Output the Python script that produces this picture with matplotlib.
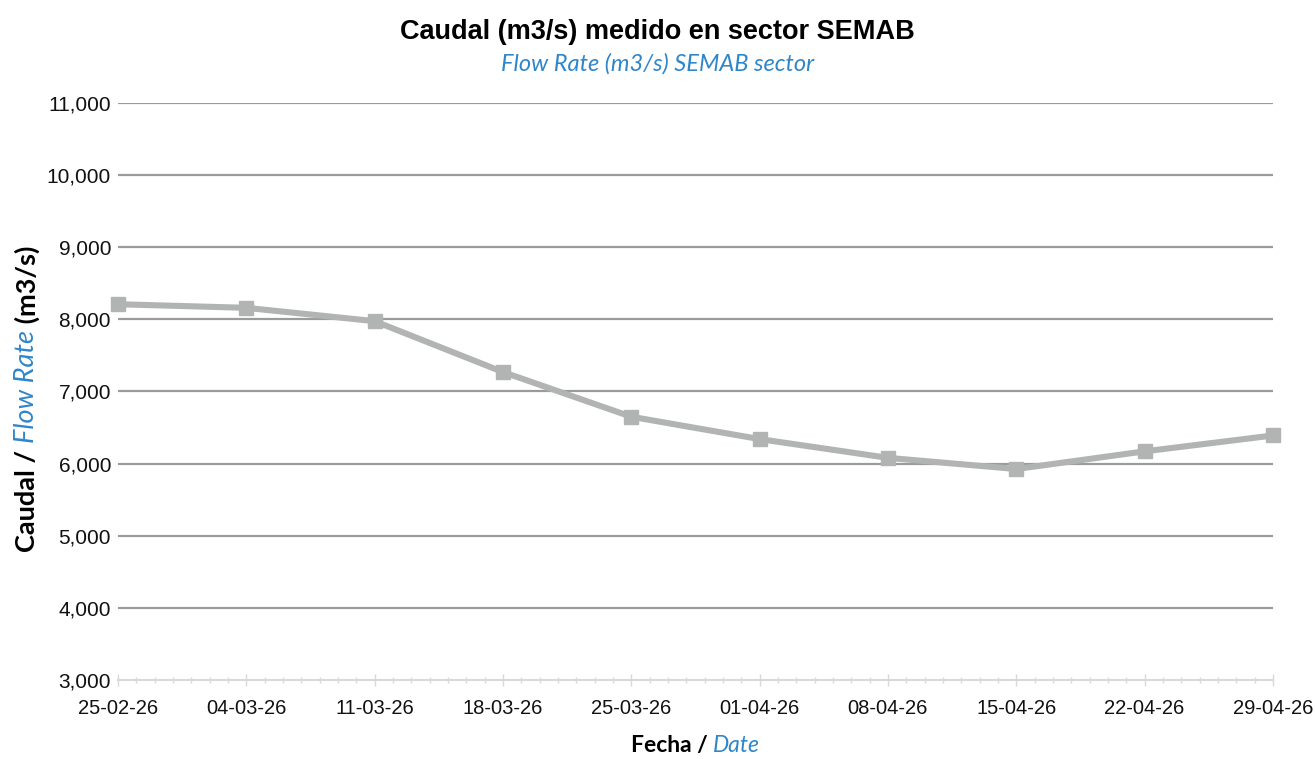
import datetime as dt
import matplotlib
matplotlib.use("Agg")
import matplotlib.pyplot as plt
import matplotlib.dates as mdates
import matplotlib.ticker as mticker
from matplotlib.transforms import IdentityTransform

# Weekly flow readings, sector SEMAB
dates = ["25-02-26", "04-03-26", "11-03-26", "18-03-26", "25-03-26",
         "01-04-26", "08-04-26", "15-04-26", "22-04-26", "29-04-26"]
flow = [8210, 8160, 7975, 7270, 6650, 6340, 6080, 5925, 6170, 6390]
y_ticks = [3000, 4000, 5000, 6000, 7000, 8000, 9000, 10000, 11000]

title_es = "Caudal (m3/s) medido en sector SEMAB"
title_en = "Flow Rate (m3/s) SEMAB sector"

sans = "Liberation Sans"
body = "Lato"
blue = "#2f86c8"

x = [dt.datetime.strptime(d, "%d-%m-%y") for d in dates]

fig = plt.figure(figsize=(13.15, 7.59), dpi=100)
ax = fig.add_axes([0.0897, 0.1041, 0.8783, 0.7602])

for v in y_ticks[1:]:
    ax.axhline(v, color="#9b9b9b", lw=1.6, zorder=1)

ax.plot(x, flow, color="#b2b4b4", lw=4.4, marker="s", ms=10,
        markerfacecolor="#b2b4b4", markeredgecolor="#b2b4b4",
        zorder=3, clip_on=False)

ax.set_xlim(x[0], x[-1])
ax.set_ylim(y_ticks[0], y_ticks[-1])
ax.set_yticks(y_ticks)
ax.yaxis.set_major_formatter(mticker.FuncFormatter(lambda v, p: f"{int(v):,}"))
ax.set_xticks(x)
ax.set_xticklabels(dates)
ax.xaxis.set_minor_locator(mdates.DayLocator())

for s in ("top", "right", "left"):
    ax.spines[s].set_visible(False)
ax.spines["bottom"].set_color("#d9d9d9")
ax.spines["bottom"].set_linewidth(1.5)

ax.tick_params(axis="y", length=0, pad=5, labelsize=15, labelcolor="#111111")
ax.tick_params(axis="x", which="major", direction="inout", length=9, width=1,
               color="#d9d9d9", pad=9, labelsize=14.5, labelcolor="#111111")
ax.tick_params(axis="x", which="minor", direction="inout", length=5, width=1,
               color="#d9d9d9")
for lab in ax.get_xticklabels() + ax.get_yticklabels():
    lab.set_fontfamily(sans)

fig.text(0.5, 0.958, title_es, ha="center", va="center", fontsize=19.5,
         fontweight="bold", family=sans)
fig.text(0.5, 0.916, title_en, ha="center", va="center", fontsize=17,
         style="italic", color=blue, family=body)

# Y axis title in three pieces: bold / italic blue / bold
ysize = 19.5
t1 = fig.text(0.0205, 0.273, "Caudal / ", rotation=90, ha="center", va="bottom",
              fontsize=ysize, fontweight="bold", family=body)
t2 = fig.text(0, 0, "Flow Rate", rotation=90, ha="center", va="bottom",
              fontsize=ysize, style="italic", color=blue, family=body)
t3 = fig.text(0, 0, " (m3/s)", rotation=90, ha="center", va="bottom",
              fontsize=ysize, fontweight="bold", family=body)
fig.canvas.draw()
r = fig.canvas.get_renderer()
bb1 = t1.get_window_extent(r)
cx = (bb1.x0 + bb1.x1) / 2
t2.set_transform(IdentityTransform())
t2.set_position((cx, bb1.y1))
fig.canvas.draw()
bb2 = t2.get_window_extent(r)
t3.set_transform(IdentityTransform())
t3.set_position((cx, bb2.y1))

# X axis title: bold + italic blue
fig.text(0.5422, 0.004, "Fecha / ", ha="right", va="bottom", fontsize=16.5,
         fontweight="bold", family=body)
fig.text(0.5422, 0.004, "Date", ha="left", va="bottom", fontsize=16.5,
         style="italic", color=blue, family=body)

fig.savefig("out.png", dpi=100, facecolor="white")
